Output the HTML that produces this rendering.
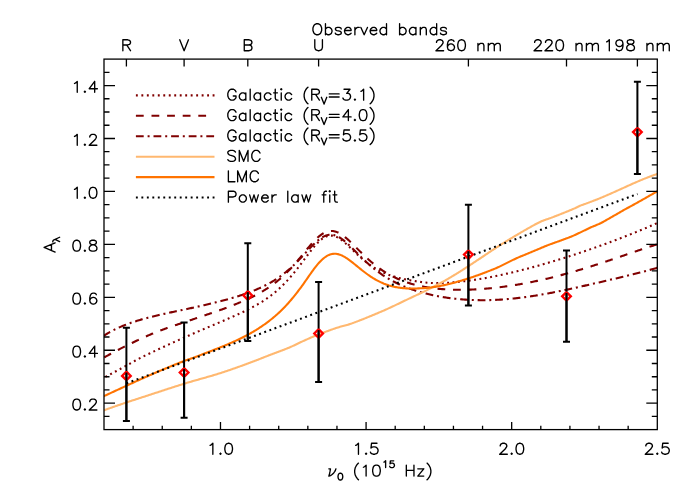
<!DOCTYPE html>
<html><head><meta charset="utf-8"><title>Extinction curves</title>
<style>html,body{margin:0;padding:0;background:#fff}svg{display:block}text{font-family:"Liberation Sans",sans-serif;font-size:15px;fill:#000;fill-opacity:0}</style></head>
<body>
<svg width="692" height="494" viewBox="0 0 692 494">
<rect width="692" height="494" fill="#fff"/>
<defs><clipPath id="c"><rect x="104.0" y="59.0" width="553.3" height="370.4"/></clipPath></defs>
<g clip-path="url(#c)" fill="none" stroke-width="2.1">
<path d="M102 378.56L103 378.1L104 377.65L105 377.12L106 376.6L107 376.07L108 375.54L109 375.01L110 374.47L111 373.94L112 373.4L113 372.86L114 372.32L115 371.78L116 371.24L117 370.7L118 370.16L119 369.61L120 369.07L121 368.52L122 367.97L123 367.43L124 366.88L125 366.33L126 365.78L127 365.23L128 364.67L129 364.11L130 363.55L131 362.99L132 362.43L133 361.87L134 361.32L135 360.77L136 360.23L137 359.69L138 359.17L139 358.65L140 358.15L141 357.65L142 357.15L143 356.66L144 356.16L145 355.67L146 355.19L147 354.7L148 354.21L149 353.73L150 353.25L151 352.77L152 352.29L153 351.82L154 351.34L155 350.87L156 350.4L157 349.93L158 349.46L159 349L160 348.53L161 348.07L162 347.61L163 347.15L164 346.69L165 346.23L166 345.77L167 345.32L168 344.86L169 344.41L170 343.95L171 343.5L172 343.05L173 342.6L174 342.15L175 341.7L176 341.25L177 340.81L178 340.36L179 339.91L180 339.46L181 339.02L182 338.57L183 338.12L184 337.68L185 337.23L186 336.79L187 336.34L188 335.9L189 335.46L190 335.02L191 334.58L192 334.14L193 333.71L194 333.27L195 332.84L196 332.41L197 331.97L198 331.54L199 331.11L200 330.68L201 330.25L202 329.82L203 329.4L204 328.97L205 328.55L206 328.12L207 327.69L208 327.27L209 326.85L210 326.42L211 326L212 325.58L213 325.15L214 324.73L215 324.31L216 323.88L217 323.46L218 323.04L219 322.61L220 322.19L221 321.76L222 321.33L223 320.91L224 320.48L225 320.05L226 319.62L227 319.19L228 318.76L229 318.32L230 317.88L231 317.45L232 317.01L233 316.56L234 316.12L235 315.67L236 315.22L237 314.77L238 314.31L239 313.85L240 313.39L241 312.92L242 312.45L243 311.98L244 311.5L245 311.01L246 310.52L247 310.03L248 309.53L249 309.02L250 308.51L251 308L252 307.47L253 306.94L254 306.4L255 305.85L256 305.3L257 304.74L258 304.17L259 303.58L260 302.99L261 302.39L262 301.78L263 301.14L264 300.5L265 299.83L266 299.16L267 298.46L268 297.76L269 297.03L270 296.29L271 295.53L272 294.75L273 293.96L274 293.15L275 292.32L276 291.47L277 290.61L278 289.72L279 288.82L280 287.89L281 286.95L282 285.98L283 285L284 283.99L285 282.97L286 281.92L287 280.85L288 279.76L289 278.65L290 277.52L291 276.37L292 275.2L293 274.01L294 272.8L295 271.57L296 270.32L297 269.06L298 267.78L299 266.49L300 265.18L301 263.87L302 262.54L303 261.21L304 259.87L305 258.52L306 257.18L307 255.83L308 254.5L309 253.17L310 251.86L311 250.57L312 249.3L313 248.05L314 246.84L315 245.67L316 244.53L317 243.45L318 242.42L319 241.44L320 240.53L321 239.68L322 238.9L323 238.2L324 237.58L325 237.04L326 236.58L327 236.21L328 235.92L329 235.72L330 235.61L331 235.59L332 235.65L333 235.8L334 236.03L335 236.33L336 236.71L337 237.17L338 237.68L339 238.27L340 238.9L341 239.6L342 240.34L343 241.12L344 241.94L345 242.8L346 243.68L347 244.58L348 245.51L349 246.45L350 247.4L351 248.36L352 249.33L353 250.29L354 251.26L355 252.22L356 253.17L357 254.11L358 255.05L359 255.97L360 256.87L361 257.76L362 258.63L363 259.49L364 260.32L365 261.14L366 261.94L367 262.72L368 263.47L369 264.21L370 264.93L371 265.62L372 266.3L373 266.95L374 267.59L375 268.2L376 268.79L377 269.37L378 269.93L379 270.46L380 270.98L381 271.48L382 271.97L383 272.43L384 272.88L385 273.32L386 273.73L387 274.14L388 274.52L389 274.9L390 275.26L391 275.6L392 275.94L393 276.26L394 276.57L395 276.86L396 277.15L397 277.43L398 277.69L399 277.95L400 278.19L401 278.43L402 278.65L403 278.87L404 279.08L405 279.28L406 279.48L407 279.68L408 279.87L409 280.06L410 280.24L411 280.42L412 280.6L413 280.77L414 280.94L415 281.11L416 281.27L417 281.43L418 281.58L419 281.72L420 281.87L421 282L422 282.13L423 282.25L424 282.37L425 282.48L426 282.58L427 282.68L428 282.76L429 282.84L430 282.92L431 282.98L432 283.04L433 283.08L434 283.12L435 283.15L436 283.16L437 283.17L438 283.17L439 283.15L440 283.13L441 283.1L442 283.06L443 283.02L444 282.97L445 282.92L446 282.87L447 282.81L448 282.75L449 282.68L450 282.61L451 282.53L452 282.46L453 282.38L454 282.29L455 282.2L456 282.11L457 282.01L458 281.92L459 281.81L460 281.71L461 281.6L462 281.49L463 281.37L464 281.25L465 281.13L466 281L467 280.88L468 280.75L469 280.61L470 280.48L471 280.34L472 280.19L473 280.05L474 279.9L475 279.75L476 279.6L477 279.44L478 279.28L479 279.12L480 278.96L481 278.79L482 278.62L483 278.45L484 278.27L485 278.1L486 277.92L487 277.74L488 277.55L489 277.36L490 277.18L491 276.99L492 276.79L493 276.6L494 276.4L495 276.2L496 276L497 275.79L498 275.58L499 275.38L500 275.17L501 274.95L502 274.74L503 274.52L504 274.3L505 274.08L506 273.86L507 273.63L508 273.4L509 273.17L510 272.94L511 272.71L512 272.48L513 272.24L514 272L515 271.76L516 271.52L517 271.27L518 271.03L519 270.78L520 270.53L521 270.28L522 270.02L523 269.77L524 269.51L525 269.25L526 268.99L527 268.73L528 268.47L529 268.2L530 267.94L531 267.67L532 267.4L533 267.13L534 266.86L535 266.58L536 266.31L537 266.03L538 265.75L539 265.47L540 265.19L541 264.9L542 264.62L543 264.33L544 264.04L545 263.75L546 263.46L547 263.17L548 262.88L549 262.58L550 262.28L551 261.99L552 261.69L553 261.39L554 261.08L555 260.78L556 260.48L557 260.17L558 259.86L559 259.55L560 259.24L561 258.93L562 258.62L563 258.31L564 257.99L565 257.68L566 257.36L567 257.04L568 256.72L569 256.4L570 256.07L571 255.75L572 255.43L573 255.1L574 254.77L575 254.44L576 254.11L577 253.78L578 253.45L579 253.12L580 252.78L581 252.45L582 252.11L583 251.77L584 251.43L585 251.09L586 250.75L587 250.41L588 250.06L589 249.72L590 249.37L591 249.02L592 248.68L593 248.33L594 247.97L595 247.62L596 247.27L597 246.91L598 246.56L599 246.2L600 245.84L601 245.48L602 245.12L603 244.76L604 244.4L605 244.03L606 243.67L607 243.3L608 242.94L609 242.57L610 242.2L611 241.82L612 241.45L613 241.08L614 240.7L615 240.33L616 239.95L617 239.57L618 239.19L619 238.81L620 238.42L621 238.04L622 237.65L623 237.27L624 236.88L625 236.49L626 236.1L627 235.71L628 235.31L629 234.92L630 234.52L631 234.12L632 233.72L633 233.32L634 232.92L635 232.51L636 232.11L637 231.7L638 231.29L639 230.88L640 230.46L641 230.05L642 229.63L643 229.22L644 228.8L645 228.38L646 227.95L647 227.53L648 227.1L649 226.67L650 226.24L651 225.81L652 225.37L653 224.94L654 224.5L655 224.06L656 223.62L657 223.17L658 222.72L659 222.27" stroke="#800000" stroke-dasharray="1.9 3.52" stroke-dashoffset="1.62"/>
<path d="M102 358.66L103 358.1L104 357.54L105 356.98L106 356.43L107 355.88L108 355.33L109 354.78L110 354.24L111 353.69L112 353.16L113 352.62L114 352.08L115 351.55L116 351.02L117 350.5L118 349.97L119 349.45L120 348.93L121 348.42L122 347.9L123 347.39L124 346.89L125 346.38L126 345.88L127 345.38L128 344.88L129 344.39L130 343.9L131 343.41L132 342.93L133 342.45L134 341.97L135 341.49L136 341.02L137 340.55L138 340.08L139 339.61L140 339.15L141 338.69L142 338.24L143 337.78L144 337.33L145 336.89L146 336.44L147 336L148 335.56L149 335.13L150 334.69L151 334.26L152 333.84L153 333.42L154 333.01L155 332.61L156 332.21L157 331.81L158 331.42L159 331.04L160 330.65L161 330.28L162 329.91L163 329.54L164 329.17L165 328.81L166 328.45L167 328.1L168 327.75L169 327.4L170 327.05L171 326.7L172 326.36L173 326.02L174 325.68L175 325.35L176 325.01L177 324.68L178 324.34L179 324.01L180 323.68L181 323.34L182 323.01L183 322.68L184 322.35L185 322.01L186 321.68L187 321.34L188 321.01L189 320.67L190 320.33L191 319.99L192 319.65L193 319.31L194 318.97L195 318.63L196 318.29L197 317.95L198 317.62L199 317.28L200 316.94L201 316.6L202 316.26L203 315.93L204 315.59L205 315.25L206 314.91L207 314.57L208 314.24L209 313.9L210 313.56L211 313.22L212 312.88L213 312.54L214 312.2L215 311.86L216 311.51L217 311.17L218 310.82L219 310.46L220 310.11L221 309.75L222 309.39L223 309.02L224 308.65L225 308.28L226 307.91L227 307.53L228 307.15L229 306.77L230 306.39L231 306L232 305.61L233 305.22L234 304.82L235 304.43L236 304.03L237 303.62L238 303.22L239 302.81L240 302.4L241 301.98L242 301.56L243 301.13L244 300.7L245 300.26L246 299.81L247 299.36L248 298.9L249 298.44L250 297.96L251 297.48L252 297L253 296.5L254 296L255 295.49L256 294.97L257 294.44L258 293.9L259 293.35L260 292.79L261 292.23L262 291.65L263 291.06L264 290.46L265 289.85L266 289.23L267 288.59L268 287.94L269 287.27L270 286.59L271 285.89L272 285.18L273 284.45L274 283.7L275 282.94L276 282.16L277 281.36L278 280.54L279 279.71L280 278.85L281 277.98L282 277.08L283 276.17L284 275.24L285 274.29L286 273.32L287 272.33L288 271.31L289 270.28L290 269.23L291 268.16L292 267.08L293 265.97L294 264.85L295 263.71L296 262.55L297 261.38L298 260.2L299 259L300 257.8L301 256.59L302 255.37L303 254.14L304 252.92L305 251.69L306 250.47L307 249.25L308 248.04L309 246.85L310 245.67L311 244.51L312 243.37L313 242.26L314 241.19L315 240.14L316 239.13L317 238.17L318 237.25L319 236.39L320 235.57L321 234.82L322 234.12L323 233.49L324 232.92L325 232.42L326 231.99L327 231.64L328 231.35L329 231.15L330 231.01L331 230.95L332 230.97L333 231.06L334 231.22L335 231.45L336 231.75L337 232.11L338 232.54L339 233.03L340 233.58L341 234.18L342 234.84L343 235.54L344 236.28L345 237.07L346 237.89L347 238.75L348 239.63L349 240.54L350 241.48L351 242.43L352 243.4L353 244.38L354 245.37L355 246.36L356 247.37L357 248.37L358 249.38L359 250.38L360 251.38L361 252.37L362 253.36L363 254.33L364 255.3L365 256.25L366 257.2L367 258.13L368 259.04L369 259.94L370 260.83L371 261.7L372 262.55L373 263.39L374 264.21L375 265.01L376 265.8L377 266.57L378 267.32L379 268.06L380 268.77L381 269.47L382 270.16L383 270.82L384 271.48L385 272.11L386 272.73L387 273.33L388 273.91L389 274.49L390 275.04L391 275.58L392 276.11L393 276.62L394 277.12L395 277.6L396 278.07L397 278.53L398 278.97L399 279.4L400 279.82L401 280.22L402 280.62L403 281L404 281.37L405 281.73L406 282.08L407 282.42L408 282.75L409 283.07L410 283.37L411 283.67L412 283.96L413 284.24L414 284.51L415 284.77L416 285.03L417 285.27L418 285.51L419 285.73L420 285.95L421 286.17L422 286.37L423 286.57L424 286.76L425 286.94L426 287.12L427 287.29L428 287.45L429 287.6L430 287.75L431 287.9L432 288.03L433 288.17L434 288.29L435 288.41L436 288.52L437 288.63L438 288.74L439 288.83L440 288.92L441 289.01L442 289.09L443 289.17L444 289.24L445 289.31L446 289.37L447 289.43L448 289.48L449 289.53L450 289.57L451 289.61L452 289.65L453 289.68L454 289.71L455 289.73L456 289.75L457 289.76L458 289.77L459 289.78L460 289.78L461 289.78L462 289.78L463 289.77L464 289.76L465 289.74L466 289.72L467 289.7L468 289.68L469 289.65L470 289.61L471 289.58L472 289.54L473 289.5L474 289.45L475 289.4L476 289.35L477 289.29L478 289.23L479 289.17L480 289.11L481 289.04L482 288.97L483 288.89L484 288.81L485 288.73L486 288.65L487 288.57L488 288.48L489 288.38L490 288.29L491 288.19L492 288.09L493 287.99L494 287.88L495 287.77L496 287.66L497 287.55L498 287.43L499 287.31L500 287.19L501 287.07L502 286.94L503 286.81L504 286.68L505 286.54L506 286.4L507 286.26L508 286.12L509 285.97L510 285.82L511 285.67L512 285.52L513 285.36L514 285.21L515 285.05L516 284.88L517 284.72L518 284.55L519 284.38L520 284.2L521 284.03L522 283.85L523 283.67L524 283.49L525 283.3L526 283.12L527 282.93L528 282.73L529 282.54L530 282.34L531 282.14L532 281.94L533 281.74L534 281.53L535 281.32L536 281.11L537 280.9L538 280.69L539 280.47L540 280.25L541 280.03L542 279.8L543 279.58L544 279.35L545 279.12L546 278.88L547 278.65L548 278.41L549 278.17L550 277.93L551 277.69L552 277.44L553 277.2L554 276.95L555 276.69L556 276.44L557 276.18L558 275.93L559 275.67L560 275.4L561 275.14L562 274.87L563 274.61L564 274.34L565 274.07L566 273.79L567 273.52L568 273.24L569 272.96L570 272.68L571 272.4L572 272.11L573 271.82L574 271.54L575 271.25L576 270.95L577 270.66L578 270.36L579 270.07L580 269.77L581 269.47L582 269.17L583 268.86L584 268.56L585 268.25L586 267.94L587 267.63L588 267.32L589 267.01L590 266.7L591 266.38L592 266.06L593 265.75L594 265.43L595 265.1L596 264.78L597 264.46L598 264.13L599 263.81L600 263.48L601 263.15L602 262.83L603 262.5L604 262.16L605 261.83L606 261.5L607 261.17L608 260.83L609 260.49L610 260.16L611 259.82L612 259.48L613 259.14L614 258.81L615 258.47L616 258.13L617 257.79L618 257.44L619 257.1L620 256.76L621 256.42L622 256.08L623 255.73L624 255.39L625 255.05L626 254.7L627 254.36L628 254.02L629 253.68L630 253.33L631 252.99L632 252.65L633 252.31L634 251.96L635 251.62L636 251.28L637 250.94L638 250.6L639 250.27L640 249.93L641 249.59L642 249.26L643 248.92L644 248.59L645 248.26L646 247.92L647 247.59L648 247.27L649 246.94L650 246.61L651 246.29L652 245.97L653 245.65L654 245.33L655 245.01L656 244.7L657 244.39L658 244.08L659 243.77" stroke="#800000" stroke-dasharray="7.78 7.78" stroke-dashoffset="13"/>
<path d="M102 336.96L103 336.29L104 335.63L105 335L106 334.38L107 333.77L108 333.18L109 332.6L110 332.04L111 331.49L112 330.95L113 330.43L114 329.92L115 329.42L116 328.93L117 328.45L118 327.99L119 327.53L120 327.09L121 326.65L122 326.23L123 325.81L124 325.41L125 325.01L126 324.62L127 324.24L128 323.87L129 323.5L130 323.14L131 322.79L132 322.45L133 322.11L134 321.78L135 321.46L136 321.14L137 320.83L138 320.52L139 320.22L140 319.92L141 319.63L142 319.34L143 319.06L144 318.79L145 318.51L146 318.24L147 317.98L148 317.71L149 317.46L150 317.2L151 316.95L152 316.7L153 316.45L154 316.21L155 315.97L156 315.73L157 315.5L158 315.26L159 315.03L160 314.8L161 314.57L162 314.35L163 314.12L164 313.9L165 313.68L166 313.46L167 313.24L168 313.02L169 312.8L170 312.58L171 312.37L172 312.15L173 311.94L174 311.73L175 311.51L176 311.3L177 311.09L178 310.87L179 310.66L180 310.45L181 310.24L182 310.03L183 309.81L184 309.6L185 309.39L186 309.17L187 308.96L188 308.75L189 308.53L190 308.32L191 308.1L192 307.88L193 307.67L194 307.45L195 307.23L196 307.01L197 306.79L198 306.57L199 306.35L200 306.12L201 305.9L202 305.67L203 305.44L204 305.21L205 304.98L206 304.75L207 304.52L208 304.29L209 304.05L210 303.81L211 303.57L212 303.33L213 303.09L214 302.84L215 302.6L216 302.35L217 302.1L218 301.84L219 301.59L220 301.33L221 301.07L222 300.81L223 300.54L224 300.28L225 300.01L226 299.73L227 299.46L228 299.18L229 298.9L230 298.62L231 298.33L232 298.04L233 297.74L234 297.44L235 297.14L236 296.84L237 296.53L238 296.21L239 295.9L240 295.58L241 295.25L242 294.92L243 294.58L244 294.24L245 293.9L246 293.54L247 293.19L248 292.82L249 292.46L250 292.08L251 291.7L252 291.31L253 290.92L254 290.52L255 290.11L256 289.69L257 289.27L258 288.83L259 288.39L260 287.94L261 287.48L262 287.01L263 286.54L264 286.05L265 285.55L266 285.04L267 284.52L268 283.99L269 283.44L270 282.89L271 282.32L272 281.74L273 281.14L274 280.53L275 279.91L276 279.27L277 278.62L278 277.95L279 277.26L280 276.56L281 275.84L282 275.11L283 274.36L284 273.59L285 272.8L286 272L287 271.17L288 270.33L289 269.47L290 268.59L291 267.69L292 266.78L293 265.84L294 264.89L295 263.93L296 262.94L297 261.94L298 260.92L299 259.89L300 258.85L301 257.79L302 256.73L303 255.66L304 254.58L305 253.49L306 252.41L307 251.32L308 250.24L309 249.17L310 248.1L311 247.05L312 246.02L313 245L314 244.02L315 243.06L316 242.13L317 241.24L318 240.39L319 239.58L320 238.83L321 238.13L322 237.49L323 236.9L324 236.38L325 235.93L326 235.54L327 235.23L328 234.99L329 234.83L330 234.73L331 234.72L332 234.78L333 234.91L334 235.11L335 235.39L336 235.73L337 236.15L338 236.62L339 237.16L340 237.75L341 238.4L342 239.1L343 239.84L344 240.62L345 241.45L346 242.3L347 243.19L348 244.11L349 245.05L350 246L351 246.98L352 247.96L353 248.96L354 249.96L355 250.97L356 251.98L357 252.99L358 254L359 255L360 255.99L361 256.98L362 257.96L363 258.93L364 259.89L365 260.83L366 261.76L367 262.68L368 263.59L369 264.48L370 265.35L371 266.21L372 267.05L373 267.88L374 268.69L375 269.48L376 270.26L377 271.03L378 271.77L379 272.51L380 273.22L381 273.92L382 274.61L383 275.28L384 275.94L385 276.58L386 277.21L387 277.82L388 278.42L389 279.01L390 279.58L391 280.14L392 280.69L393 281.23L394 281.75L395 282.27L396 282.77L397 283.26L398 283.74L399 284.21L400 284.66L401 285.11L402 285.55L403 285.98L404 286.4L405 286.81L406 287.21L407 287.6L408 287.98L409 288.36L410 288.73L411 289.08L412 289.43L413 289.78L414 290.11L415 290.44L416 290.76L417 291.08L418 291.38L419 291.68L420 291.97L421 292.26L422 292.54L423 292.81L424 293.08L425 293.34L426 293.6L427 293.85L428 294.09L429 294.33L430 294.56L431 294.78L432 295.01L433 295.22L434 295.43L435 295.64L436 295.83L437 296.03L438 296.22L439 296.4L440 296.58L441 296.76L442 296.93L443 297.09L444 297.25L445 297.41L446 297.56L447 297.7L448 297.85L449 297.98L450 298.12L451 298.25L452 298.37L453 298.49L454 298.61L455 298.72L456 298.82L457 298.93L458 299.03L459 299.12L460 299.21L461 299.3L462 299.38L463 299.46L464 299.53L465 299.6L466 299.67L467 299.73L468 299.79L469 299.84L470 299.89L471 299.94L472 299.98L473 300.02L474 300.06L475 300.09L476 300.11L477 300.14L478 300.16L479 300.17L480 300.18L481 300.19L482 300.2L483 300.2L484 300.19L485 300.19L486 300.17L487 300.16L488 300.14L489 300.12L490 300.09L491 300.07L492 300.03L493 300L494 299.96L495 299.91L496 299.87L497 299.82L498 299.76L499 299.7L500 299.64L501 299.58L502 299.51L503 299.44L504 299.37L505 299.3L506 299.22L507 299.13L508 299.05L509 298.96L510 298.87L511 298.77L512 298.67L513 298.57L514 298.47L515 298.36L516 298.25L517 298.14L518 298.03L519 297.91L520 297.79L521 297.66L522 297.54L523 297.41L524 297.28L525 297.14L526 297.01L527 296.87L528 296.73L529 296.58L530 296.44L531 296.29L532 296.13L533 295.98L534 295.82L535 295.67L536 295.51L537 295.34L538 295.18L539 295.01L540 294.84L541 294.67L542 294.5L543 294.32L544 294.14L545 293.96L546 293.78L547 293.6L548 293.41L549 293.23L550 293.04L551 292.85L552 292.66L553 292.46L554 292.27L555 292.07L556 291.87L557 291.67L558 291.47L559 291.27L560 291.06L561 290.86L562 290.65L563 290.44L564 290.24L565 290.03L566 289.81L567 289.6L568 289.39L569 289.17L570 288.96L571 288.74L572 288.52L573 288.3L574 288.08L575 287.86L576 287.64L577 287.42L578 287.2L579 286.98L580 286.75L581 286.53L582 286.3L583 286.07L584 285.85L585 285.62L586 285.39L587 285.17L588 284.94L589 284.71L590 284.48L591 284.25L592 284.02L593 283.79L594 283.56L595 283.32L596 283.09L597 282.86L598 282.63L599 282.4L600 282.16L601 281.93L602 281.7L603 281.46L604 281.23L605 280.99L606 280.76L607 280.53L608 280.29L609 280.06L610 279.82L611 279.58L612 279.35L613 279.11L614 278.88L615 278.64L616 278.4L617 278.16L618 277.93L619 277.69L620 277.45L621 277.21L622 276.97L623 276.73L624 276.49L625 276.25L626 276.01L627 275.77L628 275.52L629 275.28L630 275.04L631 274.79L632 274.55L633 274.3L634 274.05L635 273.8L636 273.55L637 273.3L638 273.05L639 272.79L640 272.54L641 272.28L642 272.02L643 271.76L644 271.5L645 271.23L646 270.97L647 270.7L648 270.43L649 270.16L650 269.88L651 269.6L652 269.32L653 269.04L654 268.75L655 268.46L656 268.17L657 267.87L658 267.58L659 267.28" stroke="#800000" stroke-dasharray="7.8 3.86 2 3.86" stroke-dashoffset="15.76"/>
<path d="M102 411.02L103 410.65L104 410.28L105 409.92L106 409.56L107 409.2L108 408.84L109 408.49L110 408.13L111 407.78L112 407.43L113 407.07L114 406.72L115 406.38L116 406.03L117 405.68L118 405.34L119 404.99L120 404.65L121 404.31L122 403.97L123 403.63L124 403.29L125 402.95L126 402.61L127 402.28L128 401.95L129 401.61L130 401.28L131 400.95L132 400.62L133 400.29L134 399.96L135 399.63L136 399.31L137 398.98L138 398.66L139 398.33L140 398.01L141 397.69L142 397.36L143 397.04L144 396.72L145 396.39L146 396.07L147 395.74L148 395.41L149 395.09L150 394.76L151 394.43L152 394.1L153 393.78L154 393.45L155 393.12L156 392.79L157 392.46L158 392.13L159 391.8L160 391.48L161 391.15L162 390.82L163 390.49L164 390.16L165 389.84L166 389.51L167 389.18L168 388.86L169 388.53L170 388.21L171 387.88L172 387.56L173 387.24L174 386.91L175 386.59L176 386.27L177 385.95L178 385.64L179 385.32L180 385L181 384.69L182 384.38L183 384.06L184 383.75L185 383.45L186 383.14L187 382.84L188 382.54L189 382.24L190 381.95L191 381.66L192 381.37L193 381.08L194 380.79L195 380.5L196 380.22L197 379.94L198 379.65L199 379.37L200 379.09L201 378.81L202 378.53L203 378.25L204 377.96L205 377.68L206 377.4L207 377.11L208 376.83L209 376.54L210 376.25L211 375.96L212 375.67L213 375.38L214 375.08L215 374.78L216 374.48L217 374.17L218 373.86L219 373.55L220 373.24L221 372.92L222 372.59L223 372.27L224 371.94L225 371.6L226 371.26L227 370.92L228 370.58L229 370.24L230 369.89L231 369.55L232 369.2L233 368.85L234 368.5L235 368.15L236 367.8L237 367.45L238 367.09L239 366.74L240 366.38L241 366.02L242 365.66L243 365.3L244 364.93L245 364.57L246 364.2L247 363.83L248 363.46L249 363.09L250 362.71L251 362.34L252 361.96L253 361.58L254 361.2L255 360.82L256 360.43L257 360.05L258 359.66L259 359.27L260 358.88L261 358.48L262 358.09L263 357.69L264 357.3L265 356.9L266 356.51L267 356.12L268 355.73L269 355.35L270 354.97L271 354.59L272 354.21L273 353.83L274 353.46L275 353.08L276 352.71L277 352.33L278 351.96L279 351.58L280 351.2L281 350.82L282 350.44L283 350.05L284 349.66L285 349.27L286 348.88L287 348.48L288 348.08L289 347.67L290 347.26L291 346.83L292 346.38L293 345.92L294 345.44L295 344.95L296 344.45L297 343.96L298 343.47L299 342.99L300 342.53L301 342.07L302 341.62L303 341.16L304 340.71L305 340.26L306 339.8L307 339.35L308 338.91L309 338.46L310 338.02L311 337.58L312 337.15L313 336.72L314 336.3L315 335.89L316 335.48L317 335.07L318 334.68L319 334.29L320 333.9L321 333.52L322 333.14L323 332.76L324 332.38L325 332.01L326 331.64L327 331.27L328 330.91L329 330.55L330 330.19L331 329.83L332 329.47L333 329.12L334 328.76L335 328.41L336 328.07L337 327.75L338 327.44L339 327.15L340 326.86L341 326.59L342 326.32L343 326.05L344 325.79L345 325.52L346 325.25L347 324.97L348 324.68L349 324.38L350 324.06L351 323.72L352 323.37L353 323L354 322.63L355 322.26L356 321.88L357 321.5L358 321.12L359 320.73L360 320.34L361 319.95L362 319.56L363 319.16L364 318.76L365 318.36L366 317.96L367 317.55L368 317.14L369 316.73L370 316.32L371 315.91L372 315.5L373 315.08L374 314.67L375 314.25L376 313.83L377 313.41L378 312.99L379 312.57L380 312.15L381 311.73L382 311.3L383 310.87L384 310.43L385 309.99L386 309.54L387 309.09L388 308.63L389 308.17L390 307.71L391 307.25L392 306.78L393 306.31L394 305.84L395 305.36L396 304.88L397 304.41L398 303.93L399 303.45L400 302.97L401 302.49L402 302.01L403 301.53L404 301.04L405 300.56L406 300.09L407 299.61L408 299.13L409 298.66L410 298.18L411 297.71L412 297.24L413 296.78L414 296.31L415 295.85L416 295.38L417 294.92L418 294.45L419 293.97L420 293.5L421 293.02L422 292.54L423 292.06L424 291.57L425 291.08L426 290.59L427 290.09L428 289.59L429 289.09L430 288.58L431 288.07L432 287.56L433 287.04L434 286.52L435 286L436 285.47L437 284.94L438 284.41L439 283.87L440 283.33L441 282.78L442 282.23L443 281.67L444 281.11L445 280.55L446 279.98L447 279.41L448 278.83L449 278.25L450 277.66L451 277.07L452 276.47L453 275.87L454 275.26L455 274.65L456 274.04L457 273.42L458 272.8L459 272.17L460 271.55L461 270.91L462 270.28L463 269.64L464 269L465 268.36L466 267.72L467 267.07L468 266.42L469 265.77L470 265.11L471 264.46L472 263.8L473 263.14L474 262.48L475 261.82L476 261.16L477 260.49L478 259.83L479 259.16L480 258.5L481 257.83L482 257.16L483 256.5L484 255.83L485 255.16L486 254.49L487 253.82L488 253.16L489 252.49L490 251.82L491 251.16L492 250.49L493 249.83L494 249.16L495 248.5L496 247.84L497 247.19L498 246.53L499 245.88L500 245.24L501 244.59L502 243.95L503 243.32L504 242.68L505 242.05L506 241.43L507 240.81L508 240.2L509 239.59L510 238.99L511 238.4L512 237.8L513 237.21L514 236.62L515 236.02L516 235.43L517 234.83L518 234.23L519 233.63L520 233.04L521 232.45L522 231.87L523 231.29L524 230.71L525 230.14L526 229.57L527 229L528 228.44L529 227.88L530 227.31L531 226.75L532 226.19L533 225.63L534 225.08L535 224.53L536 223.99L537 223.47L538 222.95L539 222.45L540 221.97L541 221.51L542 221.08L543 220.68L544 220.29L545 219.93L546 219.58L547 219.23L548 218.9L549 218.56L550 218.22L551 217.87L552 217.5L553 217.13L554 216.74L555 216.35L556 215.96L557 215.56L558 215.16L559 214.75L560 214.35L561 213.95L562 213.55L563 213.16L564 212.77L565 212.37L566 211.97L567 211.57L568 211.16L569 210.74L570 210.33L571 209.91L572 209.48L573 209.06L574 208.63L575 208.19L576 207.72L577 207.23L578 206.75L579 206.27L580 205.81L581 205.39L582 205.02L583 204.68L584 204.33L585 203.98L586 203.62L587 203.26L588 202.89L589 202.52L590 202.14L591 201.76L592 201.38L593 200.99L594 200.6L595 200.21L596 199.81L597 199.41L598 199.01L599 198.6L600 198.19L601 197.77L602 197.36L603 196.94L604 196.52L605 196.09L606 195.66L607 195.23L608 194.8L609 194.36L610 193.93L611 193.49L612 193.05L613 192.6L614 192.16L615 191.71L616 191.26L617 190.81L618 190.36L619 189.9L620 189.45L621 188.99L622 188.54L623 188.08L624 187.63L625 187.18L626 186.72L627 186.27L628 185.82L629 185.37L630 184.92L631 184.47L632 184.03L633 183.58L634 183.14L635 182.7L636 182.27L637 181.84L638 181.41L639 180.98L640 180.56L641 180.14L642 179.72L643 179.31L644 178.9L645 178.5L646 178.1L647 177.7L648 177.31L649 176.93L650 176.55L651 176.18L652 175.81L653 175.45L654 175.1L655 174.75L656 174.41L657 174.07L658 173.77L659 173.48" stroke="#ffb870"/>
<path d="M102 396.96L103 396.52L104 396.08L105 395.62L106 395.17L107 394.71L108 394.25L109 393.8L110 393.34L111 392.88L112 392.42L113 391.95L114 391.49L115 391.03L116 390.57L117 390.11L118 389.64L119 389.18L120 388.72L121 388.26L122 387.79L123 387.33L124 386.87L125 386.41L126 385.95L127 385.49L128 385.03L129 384.57L130 384.11L131 383.65L132 383.19L133 382.73L134 382.28L135 381.82L136 381.37L137 380.91L138 380.46L139 380.01L140 379.56L141 379.11L142 378.66L143 378.22L144 377.77L145 377.33L146 376.88L147 376.44L148 376L149 375.56L150 375.12L151 374.68L152 374.24L153 373.81L154 373.37L155 372.94L156 372.51L157 372.08L158 371.65L159 371.22L160 370.8L161 370.37L162 369.95L163 369.53L164 369.11L165 368.69L166 368.27L167 367.86L168 367.44L169 367.03L170 366.62L171 366.21L172 365.8L173 365.4L174 364.99L175 364.59L176 364.18L177 363.78L178 363.38L179 362.99L180 362.59L181 362.2L182 361.8L183 361.41L184 361.02L185 360.64L186 360.28L187 359.94L188 359.6L189 359.27L190 358.95L191 358.62L192 358.28L193 357.92L194 357.55L195 357.16L196 356.78L197 356.4L198 356.02L199 355.63L200 355.25L201 354.87L202 354.48L203 354.1L204 353.72L205 353.33L206 352.95L207 352.57L208 352.18L209 351.8L210 351.41L211 351.02L212 350.63L213 350.24L214 349.85L215 349.46L216 349.07L217 348.67L218 348.28L219 347.88L220 347.48L221 347.07L222 346.67L223 346.26L224 345.85L225 345.44L226 345.02L227 344.6L228 344.18L229 343.75L230 343.32L231 342.88L232 342.44L233 342L234 341.55L235 341.09L236 340.63L237 340.17L238 339.7L239 339.22L240 338.74L241 338.25L242 337.76L243 337.26L244 336.75L245 336.24L246 335.71L247 335.18L248 334.65L249 334.1L250 333.55L251 332.99L252 332.42L253 331.84L254 331.25L255 330.65L256 330.04L257 329.42L258 328.79L259 328.15L260 327.49L261 326.83L262 326.15L263 325.46L264 324.76L265 324.04L266 323.32L267 322.58L268 321.83L269 321.07L270 320.29L271 319.5L272 318.7L273 317.88L274 317.05L275 316.2L276 315.33L277 314.45L278 313.55L279 312.63L280 311.69L281 310.73L282 309.75L283 308.75L284 307.73L285 306.69L286 305.63L287 304.54L288 303.43L289 302.31L290 301.16L291 299.98L292 298.79L293 297.57L294 296.34L295 295.08L296 293.82L297 292.55L298 291.27L299 289.98L300 288.67L301 287.33L302 285.96L303 284.56L304 283.13L305 281.7L306 280.25L307 278.81L308 277.36L309 275.93L310 274.49L311 273.08L312 271.68L313 270.3L314 268.96L315 267.64L316 266.36L317 265.13L318 263.94L319 262.8L320 261.72L321 260.69L322 259.73L323 258.83L324 258L325 257.23L326 256.54L327 255.92L328 255.38L329 254.91L330 254.53L331 254.21L332 253.98L333 253.83L334 253.75L335 253.74L336 253.81L337 253.94L338 254.14L339 254.41L340 254.74L341 255.13L342 255.57L343 256.06L344 256.6L345 257.18L346 257.8L347 258.45L348 259.14L349 259.86L350 260.6L351 261.36L352 262.13L353 262.92L354 263.73L355 264.54L356 265.35L357 266.17L358 266.99L359 267.8L360 268.61L361 269.42L362 270.21L363 271L364 271.77L365 272.53L366 273.28L367 274.01L368 274.73L369 275.43L370 276.11L371 276.78L372 277.42L373 278.05L374 278.66L375 279.25L376 279.82L377 280.37L378 280.9L379 281.41L380 281.9L381 282.37L382 282.82L383 283.25L384 283.66L385 284.04L386 284.41L387 284.76L388 285.09L389 285.41L390 285.7L391 285.98L392 286.24L393 286.48L394 286.71L395 286.92L396 287.12L397 287.3L398 287.46L399 287.62L400 287.76L401 287.88L402 287.99L403 288.09L404 288.18L405 288.26L406 288.33L407 288.38L408 288.43L409 288.46L410 288.48L411 288.5L412 288.51L413 288.51L414 288.5L415 288.48L416 288.46L417 288.43L418 288.4L419 288.36L420 288.32L421 288.27L422 288.22L423 288.15L424 288.09L425 288.01L426 287.93L427 287.84L428 287.75L429 287.64L430 287.53L431 287.42L432 287.29L433 287.16L434 287.02L435 286.87L436 286.71L437 286.54L438 286.36L439 286.18L440 285.98L441 285.78L442 285.57L443 285.36L444 285.14L445 284.91L446 284.68L447 284.45L448 284.21L449 283.97L450 283.72L451 283.47L452 283.21L453 282.95L454 282.68L455 282.41L456 282.14L457 281.86L458 281.57L459 281.29L460 281L461 280.7L462 280.41L463 280.11L464 279.8L465 279.49L466 279.18L467 278.87L468 278.55L469 278.22L470 277.9L471 277.56L472 277.23L473 276.89L474 276.55L475 276.2L476 275.85L477 275.49L478 275.14L479 274.77L480 274.41L481 274.04L482 273.67L483 273.3L484 272.92L485 272.54L486 272.16L487 271.77L488 271.39L489 271L490 270.61L491 270.21L492 269.81L493 269.41L494 269.01L495 268.6L496 268.18L497 267.74L498 267.29L499 266.83L500 266.36L501 265.88L502 265.4L503 264.91L504 264.41L505 263.91L506 263.41L507 262.9L508 262.4L509 261.89L510 261.39L511 260.89L512 260.4L513 259.91L514 259.43L515 258.95L516 258.49L517 258.03L518 257.59L519 257.16L520 256.74L521 256.33L522 255.92L523 255.51L524 255.1L525 254.68L526 254.27L527 253.86L528 253.44L529 253.03L530 252.61L531 252.19L532 251.78L533 251.36L534 250.94L535 250.53L536 250.11L537 249.69L538 249.27L539 248.85L540 248.43L541 248.01L542 247.59L543 247.17L544 246.75L545 246.32L546 245.91L547 245.51L548 245.12L549 244.74L550 244.37L551 244L552 243.64L553 243.29L554 242.94L555 242.58L556 242.23L557 241.88L558 241.52L559 241.15L560 240.78L561 240.41L562 240.04L563 239.68L564 239.32L565 238.96L566 238.59L567 238.23L568 237.86L569 237.48L570 237.09L571 236.69L572 236.28L573 235.85L574 235.41L575 234.95L576 234.49L577 234.02L578 233.55L579 233.07L580 232.6L581 232.12L582 231.64L583 231.15L584 230.67L585 230.19L586 229.7L587 229.22L588 228.74L589 228.27L590 227.79L591 227.33L592 226.9L593 226.48L594 226.07L595 225.66L596 225.25L597 224.84L598 224.41L599 223.97L600 223.49L601 223L602 222.48L603 221.95L604 221.4L605 220.84L606 220.27L607 219.7L608 219.12L609 218.54L610 217.97L611 217.39L612 216.83L613 216.27L614 215.7L615 215.13L616 214.55L617 213.97L618 213.39L619 212.81L620 212.23L621 211.65L622 211.08L623 210.51L624 209.94L625 209.38L626 208.83L627 208.29L628 207.75L629 207.21L630 206.66L631 206.11L632 205.57L633 205.02L634 204.46L635 203.91L636 203.35L637 202.8L638 202.24L639 201.68L640 201.12L641 200.56L642 199.99L643 199.43L644 198.86L645 198.3L646 197.73L647 197.16L648 196.6L649 196.03L650 195.46L651 194.89L652 194.32L653 193.75L654 193.18L655 192.61L656 192.05L657 191.48L658 190.86L659 190.24" stroke="#ff7300"/>
<path d="M126.4 383.35L637.5 194" stroke="#000" stroke-dasharray="1.9 3.546"/>
</g>
<g fill="none" stroke="#000" stroke-width="2">
<path d="M126.4 327.7V421M122.9 327.7h7M122.9 421h7"/>
<path d="M184.1 322.6V417.7M180.6 322.6h7M180.6 417.7h7"/>
<path d="M247.8 243.3V341M244.3 243.3h7M244.3 341h7"/>
<path d="M318.6 281.9V382.1M315.1 281.9h7M315.1 382.1h7"/>
<path d="M468.4 204.7V305.5M464.9 204.7h7M464.9 305.5h7"/>
<path d="M566.5 250.4V341.7M563 250.4h7M563 341.7h7"/>
<path d="M637.4 81.8V174M633.9 81.8h7M633.9 174h7"/>
</g>
<g fill="none" stroke="#f00" stroke-width="2.4">
<clipPath id="k0"><rect x="119.4" y="371" width="14" height="9.8"/></clipPath>
<path clip-path="url(#k0)" d="M126.4 371.6l4.3 4.3l-4.3 4.3l-4.3 -4.3z"/>
<clipPath id="k1"><rect x="177.1" y="367.6" width="14" height="9.8"/></clipPath>
<path clip-path="url(#k1)" d="M184.1 368.2l4.3 4.3l-4.3 4.3l-4.3 -4.3z"/>
<clipPath id="k2"><rect x="240.8" y="290.6" width="14" height="9.8"/></clipPath>
<path clip-path="url(#k2)" d="M247.8 291.2l4.3 4.3l-4.3 4.3l-4.3 -4.3z"/>
<clipPath id="k3"><rect x="311.6" y="328.6" width="14" height="9.8"/></clipPath>
<path clip-path="url(#k3)" d="M318.6 329.2l4.3 4.3l-4.3 4.3l-4.3 -4.3z"/>
<clipPath id="k4"><rect x="461.4" y="249.7" width="14" height="9.8"/></clipPath>
<path clip-path="url(#k4)" d="M468.4 250.3l4.3 4.3l-4.3 4.3l-4.3 -4.3z"/>
<clipPath id="k5"><rect x="559.5" y="291.4" width="14" height="9.8"/></clipPath>
<path clip-path="url(#k5)" d="M566.5 292l4.3 4.3l-4.3 4.3l-4.3 -4.3z"/>
<clipPath id="k6"><rect x="630.4" y="127.2" width="14" height="9.8"/></clipPath>
<path clip-path="url(#k6)" d="M637.4 127.8l4.3 4.3l-4.3 4.3l-4.3 -4.3z"/>
</g>
<g fill="none" stroke="#000" stroke-width="2">
<path d="M126.4 372.5V421"/>
<path d="M184.1 369.1V417.7"/>
<path d="M247.8 292.1V341"/>
<path d="M318.6 330.1V382.1"/>
<path d="M468.4 251.2V305.5"/>
<path d="M566.5 292.9V341.7"/>
<path d="M637.4 128.7V174"/>
</g>
<g fill="none" stroke="#000" stroke-width="1.3">
<rect x="104.0" y="59.1" width="553.3" height="370.5"/>
<path d="M133.12 429.4v-3.7M162.24 429.4v-3.7M191.36 429.4v-3.7M220.48 429.4v-7.5M249.6 429.4v-3.7M278.72 429.4v-3.7M307.84 429.4v-3.7M336.96 429.4v-3.7M366.08 429.4v-7.5M395.2 429.4v-3.7M424.32 429.4v-3.7M453.44 429.4v-3.7M482.56 429.4v-3.7M511.68 429.4v-7.5M540.8 429.4v-3.7M569.92 429.4v-3.7M599.04 429.4v-3.7M628.16 429.4v-3.7M126.4 59v7.5M184.1 59v7.5M247.8 59v7.5M318.6 59v7.5M468.4 59v7.5M566.5 59v7.5M637.4 59v7.5M104 416.44h5.5M657.3 416.44h-5.5M104 403.2h11M657.3 403.2h-11M104 389.96h5.5M657.3 389.96h-5.5M104 376.73h5.5M657.3 376.73h-5.5M104 363.49h5.5M657.3 363.49h-5.5M104 350.26h11M657.3 350.26h-11M104 337.02h5.5M657.3 337.02h-5.5M104 323.78h5.5M657.3 323.78h-5.5M104 310.55h5.5M657.3 310.55h-5.5M104 297.31h11M657.3 297.31h-11M104 284.08h5.5M657.3 284.08h-5.5M104 270.84h5.5M657.3 270.84h-5.5M104 257.6h5.5M657.3 257.6h-5.5M104 244.37h11M657.3 244.37h-11M104 231.13h5.5M657.3 231.13h-5.5M104 217.9h5.5M657.3 217.9h-5.5M104 204.66h5.5M657.3 204.66h-5.5M104 191.42h11M657.3 191.42h-11M104 178.19h5.5M657.3 178.19h-5.5M104 164.95h5.5M657.3 164.95h-5.5M104 151.72h5.5M657.3 151.72h-5.5M104 138.48h11M657.3 138.48h-11M104 125.24h5.5M657.3 125.24h-5.5M104 112.01h5.5M657.3 112.01h-5.5M104 98.77h5.5M657.3 98.77h-5.5M104 85.54h11M657.3 85.54h-11M104 72.3h5.5M657.3 72.3h-5.5"/>
</g>
<g fill="none" stroke-width="2.1">
<path d="M135.9 95.4H214.5" stroke="#800000" stroke-dasharray="1.9 3.58"/>
<path d="M135.9 115.8H213" stroke="#800000" stroke-dasharray="7.8 7.8"/>
<path d="M135.9 136.3H214.5" stroke="#800000" stroke-dasharray="7.8 3.9 2 3.9"/>
<path d="M135.9 156.7H214.5" stroke="#ffb870"/>
<path d="M135.9 177.1H214.5" stroke="#ff7300"/>
<path d="M135.9 197.5H214.5" stroke="#000" stroke-dasharray="1.9 3.58"/>
</g>
<path d="M76.16 399.08L74.52 399.6L73.43 401.16L72.89 403.76L72.89 405.32L73.43 407.92L74.52 409.48L76.16 410L77.25 410L78.88 409.48L79.97 407.92L80.52 405.32L80.52 403.76L79.97 401.16L78.88 399.6L77.25 399.08L76.16 399.08M84.88 408.96L84.33 409.48L84.88 410L85.42 409.48L84.88 408.96M89.78 401.68L89.78 401.16L90.33 400.12L90.87 399.6L91.96 399.08L94.14 399.08L95.23 399.6L95.78 400.12L96.32 401.16L96.32 402.2L95.78 403.24L94.69 404.8L89.24 410L96.87 410M76.16 346.14L74.52 346.66L73.43 348.22L72.89 350.82L72.89 352.38L73.43 354.98L74.52 356.54L76.16 357.06L77.25 357.06L78.88 356.54L79.97 354.98L80.52 352.38L80.52 350.82L79.97 348.22L78.88 346.66L77.25 346.14L76.16 346.14M84.88 356.02L84.33 356.54L84.88 357.06L85.42 356.54L84.88 356.02M94.69 346.14L89.24 353.42L97.41 353.42M94.69 346.14L94.69 357.06M76.16 293.19L74.52 293.71L73.43 295.27L72.89 297.87L72.89 299.43L73.43 302.03L74.52 303.59L76.16 304.11L77.25 304.11L78.88 303.59L79.97 302.03L80.52 299.43L80.52 297.87L79.97 295.27L78.88 293.71L77.25 293.19L76.16 293.19M84.88 303.07L84.33 303.59L84.88 304.11L85.42 303.59L84.88 303.07M96.32 294.75L95.78 293.71L94.14 293.19L93.05 293.19L91.42 293.71L90.33 295.27L89.78 297.87L89.78 300.47L90.33 302.55L91.42 303.59L93.05 304.11L93.6 304.11L95.23 303.59L96.32 302.55L96.87 300.99L96.87 300.47L96.32 298.91L95.23 297.87L93.6 297.35L93.05 297.35L91.42 297.87L90.33 298.91L89.78 300.47M76.16 240.25L74.52 240.77L73.43 242.33L72.89 244.93L72.89 246.49L73.43 249.09L74.52 250.65L76.16 251.17L77.25 251.17L78.88 250.65L79.97 249.09L80.52 246.49L80.52 244.93L79.97 242.33L78.88 240.77L77.25 240.25L76.16 240.25M84.88 250.13L84.33 250.65L84.88 251.17L85.42 250.65L84.88 250.13M91.96 240.25L90.33 240.77L89.78 241.81L89.78 242.85L90.33 243.89L91.42 244.41L93.6 244.93L95.23 245.45L96.32 246.49L96.87 247.53L96.87 249.09L96.32 250.13L95.78 250.65L94.14 251.17L91.96 251.17L90.33 250.65L89.78 250.13L89.24 249.09L89.24 247.53L89.78 246.49L90.87 245.45L92.51 244.93L94.69 244.41L95.78 243.89L96.32 242.85L96.32 241.81L95.78 240.77L94.14 240.25L91.96 240.25M74.52 189.38L75.61 188.86L77.25 187.3L77.25 198.22M84.88 197.18L84.33 197.7L84.88 198.22L85.42 197.7L84.88 197.18M92.51 187.3L90.87 187.82L89.78 189.38L89.24 191.98L89.24 193.54L89.78 196.14L90.87 197.7L92.51 198.22L93.6 198.22L95.23 197.7L96.32 196.14L96.87 193.54L96.87 191.98L96.32 189.38L95.23 187.82L93.6 187.3L92.51 187.3M74.52 136.44L75.61 135.92L77.25 134.36L77.25 145.28M84.88 144.24L84.33 144.76L84.88 145.28L85.42 144.76L84.88 144.24M89.78 136.96L89.78 136.44L90.33 135.4L90.87 134.88L91.96 134.36L94.14 134.36L95.23 134.88L95.78 135.4L96.32 136.44L96.32 137.48L95.78 138.52L94.69 140.08L89.24 145.28L96.87 145.28M74.52 83.5L75.61 82.98L77.25 81.42L77.25 92.34M84.88 91.3L84.33 91.82L84.88 92.34L85.42 91.82L84.88 91.3M94.69 81.42L89.24 88.7L97.41 88.7M94.69 81.42L94.69 92.34M210.13 445.36L211.22 444.84L212.85 443.28L212.85 454.2M220.48 453.16L219.94 453.68L220.48 454.2L221.03 453.68L220.48 453.16M228.11 443.28L226.48 443.8L225.39 445.36L224.84 447.96L224.84 449.52L225.39 452.12L226.48 453.68L228.11 454.2L229.2 454.2L230.84 453.68L231.93 452.12L232.47 449.52L232.47 447.96L231.93 445.36L230.84 443.8L229.2 443.28L228.11 443.28M355.72 445.36L356.81 444.84L358.45 443.28L358.45 454.2M366.08 453.16L365.53 453.68L366.08 454.2L366.62 453.68L366.08 453.16M376.98 443.28L371.53 443.28L370.98 447.96L371.53 447.44L373.16 446.92L374.8 446.92L376.43 447.44L377.52 448.48L378.07 450.04L378.07 451.08L377.52 452.64L376.43 453.68L374.8 454.2L373.16 454.2L371.53 453.68L370.98 453.16L370.44 452.12M500.23 445.88L500.23 445.36L500.78 444.32L501.32 443.8L502.41 443.28L504.59 443.28L505.68 443.8L506.23 444.32L506.77 445.36L506.77 446.4L506.23 447.44L505.14 449L499.69 454.2L507.32 454.2M511.68 453.16L511.13 453.68L511.68 454.2L512.22 453.68L511.68 453.16M519.31 443.28L517.67 443.8L516.58 445.36L516.04 447.96L516.04 449.52L516.58 452.12L517.67 453.68L519.31 454.2L520.4 454.2L522.03 453.68L523.12 452.12L523.67 449.52L523.67 447.96L523.12 445.36L522.03 443.8L520.4 443.28L519.31 443.28M645.83 445.88L645.83 445.36L646.38 444.32L646.92 443.8L648.01 443.28L650.19 443.28L651.28 443.8L651.83 444.32L652.38 445.36L652.38 446.4L651.83 447.44L650.74 449L645.29 454.2L652.92 454.2M657.28 453.16L656.73 453.68L657.28 454.2L657.82 453.68L657.28 453.16M668.18 443.28L662.73 443.28L662.18 447.96L662.73 447.44L664.37 446.92L666 446.92L667.63 447.44L668.73 448.48L669.27 450.04L669.27 451.08L668.73 452.64L667.63 453.68L666 454.2L664.37 454.2L662.73 453.68L662.18 453.16L661.64 452.12M122.86 39.78L122.86 50.7M122.86 39.78L127.76 39.78L129.4 40.3L129.94 40.82L130.49 41.86L130.49 42.9L129.94 43.94L129.4 44.46L127.76 44.98L122.86 44.98M126.67 44.98L130.49 50.7M179.74 39.78L184.1 50.7M188.46 39.78L184.1 50.7M244.26 39.78L244.26 50.7M244.26 39.78L249.16 39.78L250.8 40.3L251.34 40.82L251.89 41.86L251.89 42.9L251.34 43.94L250.8 44.46L249.16 44.98M244.26 44.98L249.16 44.98L250.8 45.5L251.34 46.02L251.89 47.06L251.89 48.62L251.34 49.66L250.8 50.18L249.16 50.7L244.26 50.7M314.79 39.78L314.79 47.58L315.33 49.14L316.42 50.18L318.06 50.7L319.15 50.7L320.78 50.18L321.87 49.14L322.42 47.58L322.42 39.78M436.52 42.38L436.52 41.86L437.06 40.82L437.61 40.3L438.7 39.78L440.88 39.78L441.97 40.3L442.51 40.82L443.06 41.86L443.06 42.9L442.51 43.94L441.42 45.5L435.97 50.7L443.6 50.7M453.96 41.34L453.41 40.3L451.78 39.78L450.69 39.78L449.05 40.3L447.96 41.86L447.42 44.46L447.42 47.06L447.96 49.14L449.05 50.18L450.69 50.7L451.23 50.7L452.87 50.18L453.96 49.14L454.5 47.58L454.5 47.06L453.96 45.5L452.87 44.46L451.23 43.94L450.69 43.94L449.05 44.46L447.96 45.5L447.42 47.06M461.04 39.78L459.41 40.3L458.32 41.86L457.77 44.46L457.77 46.02L458.32 48.62L459.41 50.18L461.04 50.7L462.13 50.7L463.77 50.18L464.86 48.62L465.4 46.02L465.4 44.46L464.86 41.86L463.77 40.3L462.13 39.78L461.04 39.78M477.94 43.42L477.94 50.7M477.94 45.5L479.57 43.94L480.66 43.42L482.3 43.42L483.39 43.94L483.93 45.5L483.93 50.7M488.29 43.42L488.29 50.7M488.29 45.5L489.93 43.94L491.02 43.42L492.65 43.42L493.74 43.94L494.29 45.5L494.29 50.7M494.29 45.5L495.92 43.94L497.01 43.42L498.65 43.42L499.74 43.94L500.28 45.5L500.28 50.7M534.62 42.38L534.62 41.86L535.16 40.82L535.71 40.3L536.8 39.78L538.98 39.78L540.07 40.3L540.61 40.82L541.16 41.86L541.16 42.9L540.61 43.94L539.52 45.5L534.07 50.7L541.7 50.7M545.52 42.38L545.52 41.86L546.06 40.82L546.61 40.3L547.7 39.78L549.88 39.78L550.97 40.3L551.51 40.82L552.06 41.86L552.06 42.9L551.51 43.94L550.42 45.5L544.97 50.7L552.6 50.7M559.14 39.78L557.51 40.3L556.42 41.86L555.87 44.46L555.87 46.02L556.42 48.62L557.51 50.18L559.14 50.7L560.23 50.7L561.87 50.18L562.96 48.62L563.5 46.02L563.5 44.46L562.96 41.86L561.87 40.3L560.23 39.78L559.14 39.78M576.04 43.42L576.04 50.7M576.04 45.5L577.67 43.94L578.76 43.42L580.4 43.42L581.49 43.94L582.03 45.5L582.03 50.7M586.39 43.42L586.39 50.7M586.39 45.5L588.03 43.94L589.12 43.42L590.75 43.42L591.84 43.94L592.39 45.5L592.39 50.7M592.39 45.5L594.02 43.94L595.11 43.42L596.75 43.42L597.84 43.94L598.38 45.5L598.38 50.7M606.61 41.86L607.7 41.34L609.33 39.78L609.33 50.7M622.96 43.42L622.41 44.98L621.32 46.02L619.69 46.54L619.14 46.54L617.51 46.02L616.42 44.98L615.87 43.42L615.87 42.9L616.42 41.34L617.51 40.3L619.14 39.78L619.69 39.78L621.32 40.3L622.41 41.34L622.96 43.42L622.96 46.02L622.41 48.62L621.32 50.18L619.69 50.7L618.6 50.7L616.96 50.18L616.42 49.14M629.5 39.78L627.86 40.3L627.32 41.34L627.32 42.38L627.86 43.42L628.95 43.94L631.13 44.46L632.77 44.98L633.86 46.02L634.4 47.06L634.4 48.62L633.86 49.66L633.31 50.18L631.68 50.7L629.5 50.7L627.86 50.18L627.32 49.66L626.77 48.62L626.77 47.06L627.32 46.02L628.41 44.98L630.04 44.46L632.22 43.94L633.31 43.42L633.86 42.38L633.86 41.34L633.31 40.3L631.68 39.78L629.5 39.78M646.94 43.42L646.94 50.7M646.94 45.5L648.57 43.94L649.66 43.42L651.3 43.42L652.39 43.94L652.93 45.5L652.93 50.7M657.29 43.42L657.29 50.7M657.29 45.5L658.93 43.94L660.02 43.42L661.65 43.42L662.74 43.94L663.29 45.5L663.29 50.7M663.29 45.5L664.92 43.94L666.01 43.42L667.65 43.42L668.74 43.94L669.28 45.5L669.28 50.7M316.2 23.78L315.12 24.3L314.03 25.34L313.48 26.38L312.94 27.94L312.94 30.54L313.48 32.1L314.03 33.14L315.12 34.18L316.2 34.7L318.38 34.7L319.48 34.18L320.56 33.14L321.11 32.1L321.66 30.54L321.66 27.94L321.11 26.38L320.56 25.34L319.48 24.3L318.38 23.78L316.2 23.78M325.47 23.78L325.47 34.7M325.47 28.98L326.56 27.94L327.65 27.42L329.29 27.42L330.38 27.94L331.47 28.98L332.01 30.54L332.01 31.58L331.47 33.14L330.38 34.18L329.29 34.7L327.65 34.7L326.56 34.18L325.47 33.14M341.28 28.98L340.73 27.94L339.1 27.42L337.46 27.42L335.83 27.94L335.28 28.98L335.83 30.02L336.92 30.54L339.64 31.06L340.73 31.58L341.28 32.62L341.28 33.14L340.73 34.18L339.1 34.7L337.46 34.7L335.83 34.18L335.28 33.14M344.55 30.54L351.09 30.54L351.09 29.5L350.54 28.46L350 27.94L348.91 27.42L347.27 27.42L346.18 27.94L345.09 28.98L344.55 30.54L344.55 31.58L345.09 33.14L346.18 34.18L347.27 34.7L348.91 34.7L350 34.18L351.09 33.14M354.9 27.42L354.9 34.7M354.9 30.54L355.45 28.98L356.54 27.94L357.62 27.42L359.26 27.42M360.89 27.42L364.17 34.7M367.44 27.42L364.17 34.7M370.16 30.54L376.7 30.54L376.7 29.5L376.16 28.46L375.61 27.94L374.52 27.42L372.89 27.42L371.8 27.94L370.71 28.98L370.16 30.54L370.16 31.58L370.71 33.14L371.8 34.18L372.89 34.7L374.52 34.7L375.61 34.18L376.7 33.14M386.51 23.78L386.51 34.7M386.51 28.98L385.42 27.94L384.33 27.42L382.7 27.42L381.61 27.94L380.52 28.98L379.97 30.54L379.97 31.58L380.52 33.14L381.61 34.18L382.7 34.7L384.33 34.7L385.42 34.18L386.51 33.14M399.59 23.78L399.59 34.7M399.59 28.98L400.68 27.94L401.77 27.42L403.41 27.42L404.5 27.94L405.59 28.98L406.13 30.54L406.13 31.58L405.59 33.14L404.5 34.18L403.41 34.7L401.77 34.7L400.68 34.18L399.59 33.14M415.94 27.42L415.94 34.7M415.94 28.98L414.85 27.94L413.76 27.42L412.13 27.42L411.04 27.94L409.95 28.98L409.4 30.54L409.4 31.58L409.95 33.14L411.04 34.18L412.13 34.7L413.76 34.7L414.85 34.18L415.94 33.14M420.3 27.42L420.3 34.7M420.3 29.5L421.94 27.94L423.03 27.42L424.66 27.42L425.75 27.94L426.3 29.5L426.3 34.7M436.65 23.78L436.65 34.7M436.65 28.98L435.56 27.94L434.47 27.42L432.84 27.42L431.75 27.94L430.66 28.98L430.11 30.54L430.11 31.58L430.66 33.14L431.75 34.18L432.84 34.7L434.47 34.7L435.56 34.18L436.65 33.14M446.46 28.98L445.92 27.94L444.28 27.42L442.65 27.42L441.01 27.94L440.47 28.98L441.01 30.02L442.1 30.54L444.83 31.06L445.92 31.58L446.46 32.62L446.46 33.14L445.92 34.18L444.28 34.7L442.65 34.7L441.01 34.18L440.47 33.14M236.01 91.83L235.46 90.79L234.38 89.75L233.28 89.23L231.1 89.23L230.01 89.75L228.92 90.79L228.38 91.83L227.83 93.39L227.83 95.99L228.38 97.55L228.92 98.59L230.01 99.63L231.1 100.15L233.28 100.15L234.38 99.63L235.46 98.59L236.01 97.55L236.01 95.99M233.28 95.99L236.01 95.99M245.82 92.87L245.82 100.15M245.82 94.43L244.73 93.39L243.64 92.87L242 92.87L240.91 93.39L239.82 94.43L239.28 95.99L239.28 97.03L239.82 98.59L240.91 99.63L242 100.15L243.64 100.15L244.73 99.63L245.82 98.59M250.18 89.23L250.18 100.15M260.53 92.87L260.53 100.15M260.53 94.43L259.44 93.39L258.35 92.87L256.72 92.87L255.63 93.39L254.54 94.43L253.99 95.99L253.99 97.03L254.54 98.59L255.63 99.63L256.72 100.15L258.35 100.15L259.44 99.63L260.53 98.59M270.89 94.43L269.8 93.39L268.71 92.87L267.07 92.87L265.98 93.39L264.89 94.43L264.35 95.99L264.35 97.03L264.89 98.59L265.98 99.63L267.07 100.15L268.71 100.15L269.8 99.63L270.89 98.59M275.25 89.23L275.25 98.07L275.79 99.63L276.88 100.15L277.97 100.15M273.61 92.87L277.43 92.87M280.7 89.23L281.25 89.75L281.79 89.23L281.25 88.71L280.7 89.23M281.25 92.87L281.25 100.15M291.6 94.43L290.51 93.39L289.42 92.87L287.79 92.87L286.69 93.39L285.61 94.43L285.06 95.99L285.06 97.03L285.61 98.59L286.69 99.63L287.79 100.15L289.42 100.15L290.51 99.63L291.6 98.59M307.95 87.15L306.86 88.19L305.77 89.75L304.68 91.83L304.14 94.43L304.14 96.51L304.68 99.11L305.77 101.19L306.86 102.75L307.95 103.79M311.77 89.23L311.77 100.15M311.77 89.23L316.67 89.23L318.31 89.75L318.85 90.27L319.4 91.31L319.4 92.35L318.85 93.39L318.31 93.91L316.67 94.43L311.77 94.43M315.58 94.43L319.4 100.15M321.37 97.28L324.07 104.05M326.77 97.28L324.07 104.05M329.29 93.91L339.1 93.91M329.29 97.03L339.1 97.03M344.01 89.23L350 89.23L346.73 93.39L348.37 93.39L349.46 93.91L350 94.43L350.55 95.99L350.55 97.03L350 98.59L348.91 99.63L347.28 100.15L345.64 100.15L344.01 99.63L343.46 99.11L342.92 98.07M354.91 99.11L354.36 99.63L354.91 100.15L355.45 99.63L354.91 99.11M360.9 91.31L361.99 90.79L363.63 89.23L363.63 100.15M370.17 87.15L371.26 88.19L372.35 89.75L373.44 91.83L373.98 94.43L373.98 96.51L373.44 99.11L372.35 101.19L371.26 102.75L370.17 103.79M236.01 112.23L235.46 111.19L234.38 110.15L233.28 109.63L231.1 109.63L230.01 110.15L228.92 111.19L228.38 112.23L227.83 113.79L227.83 116.39L228.38 117.95L228.92 118.99L230.01 120.03L231.1 120.55L233.28 120.55L234.38 120.03L235.46 118.99L236.01 117.95L236.01 116.39M233.28 116.39L236.01 116.39M245.82 113.27L245.82 120.55M245.82 114.83L244.73 113.79L243.64 113.27L242 113.27L240.91 113.79L239.82 114.83L239.28 116.39L239.28 117.43L239.82 118.99L240.91 120.03L242 120.55L243.64 120.55L244.73 120.03L245.82 118.99M250.18 109.63L250.18 120.55M260.53 113.27L260.53 120.55M260.53 114.83L259.44 113.79L258.35 113.27L256.72 113.27L255.63 113.79L254.54 114.83L253.99 116.39L253.99 117.43L254.54 118.99L255.63 120.03L256.72 120.55L258.35 120.55L259.44 120.03L260.53 118.99M270.89 114.83L269.8 113.79L268.71 113.27L267.07 113.27L265.98 113.79L264.89 114.83L264.35 116.39L264.35 117.43L264.89 118.99L265.98 120.03L267.07 120.55L268.71 120.55L269.8 120.03L270.89 118.99M275.25 109.63L275.25 118.47L275.79 120.03L276.88 120.55L277.97 120.55M273.61 113.27L277.43 113.27M280.7 109.63L281.25 110.15L281.79 109.63L281.25 109.11L280.7 109.63M281.25 113.27L281.25 120.55M291.6 114.83L290.51 113.79L289.42 113.27L287.79 113.27L286.69 113.79L285.61 114.83L285.06 116.39L285.06 117.43L285.61 118.99L286.69 120.03L287.79 120.55L289.42 120.55L290.51 120.03L291.6 118.99M307.95 107.55L306.86 108.59L305.77 110.15L304.68 112.23L304.14 114.83L304.14 116.91L304.68 119.51L305.77 121.59L306.86 123.15L307.95 124.19M311.77 109.63L311.77 120.55M311.77 109.63L316.67 109.63L318.31 110.15L318.85 110.67L319.4 111.71L319.4 112.75L318.85 113.79L318.31 114.31L316.67 114.83L311.77 114.83M315.58 114.83L319.4 120.55M321.37 117.68L324.07 124.45M326.77 117.68L324.07 124.45M329.29 114.31L339.1 114.31M329.29 117.43L339.1 117.43M348.37 109.63L342.92 116.91L351.09 116.91M348.37 109.63L348.37 120.55M354.91 119.51L354.36 120.03L354.91 120.55L355.45 120.03L354.91 119.51M362.54 109.63L360.9 110.15L359.81 111.71L359.27 114.31L359.27 115.87L359.81 118.47L360.9 120.03L362.54 120.55L363.63 120.55L365.26 120.03L366.35 118.47L366.9 115.87L366.9 114.31L366.35 111.71L365.26 110.15L363.63 109.63L362.54 109.63M370.17 107.55L371.26 108.59L372.35 110.15L373.44 112.23L373.98 114.83L373.98 116.91L373.44 119.51L372.35 121.59L371.26 123.15L370.17 124.19M236.01 132.63L235.46 131.59L234.38 130.55L233.28 130.03L231.1 130.03L230.01 130.55L228.92 131.59L228.38 132.63L227.83 134.19L227.83 136.79L228.38 138.35L228.92 139.39L230.01 140.43L231.1 140.95L233.28 140.95L234.38 140.43L235.46 139.39L236.01 138.35L236.01 136.79M233.28 136.79L236.01 136.79M245.82 133.67L245.82 140.95M245.82 135.23L244.73 134.19L243.64 133.67L242 133.67L240.91 134.19L239.82 135.23L239.28 136.79L239.28 137.83L239.82 139.39L240.91 140.43L242 140.95L243.64 140.95L244.73 140.43L245.82 139.39M250.18 130.03L250.18 140.95M260.53 133.67L260.53 140.95M260.53 135.23L259.44 134.19L258.35 133.67L256.72 133.67L255.63 134.19L254.54 135.23L253.99 136.79L253.99 137.83L254.54 139.39L255.63 140.43L256.72 140.95L258.35 140.95L259.44 140.43L260.53 139.39M270.89 135.23L269.8 134.19L268.71 133.67L267.07 133.67L265.98 134.19L264.89 135.23L264.35 136.79L264.35 137.83L264.89 139.39L265.98 140.43L267.07 140.95L268.71 140.95L269.8 140.43L270.89 139.39M275.25 130.03L275.25 138.87L275.79 140.43L276.88 140.95L277.97 140.95M273.61 133.67L277.43 133.67M280.7 130.03L281.25 130.55L281.79 130.03L281.25 129.51L280.7 130.03M281.25 133.67L281.25 140.95M291.6 135.23L290.51 134.19L289.42 133.67L287.79 133.67L286.69 134.19L285.61 135.23L285.06 136.79L285.06 137.83L285.61 139.39L286.69 140.43L287.79 140.95L289.42 140.95L290.51 140.43L291.6 139.39M307.95 127.95L306.86 128.99L305.77 130.55L304.68 132.63L304.14 135.23L304.14 137.31L304.68 139.91L305.77 141.99L306.86 143.55L307.95 144.59M311.77 130.03L311.77 140.95M311.77 130.03L316.67 130.03L318.31 130.55L318.85 131.07L319.4 132.11L319.4 133.15L318.85 134.19L318.31 134.71L316.67 135.23L311.77 135.23M315.58 135.23L319.4 140.95M321.37 138.08L324.07 144.85M326.77 138.08L324.07 144.85M329.29 134.71L339.1 134.71M329.29 137.83L339.1 137.83M349.46 130.03L344.01 130.03L343.46 134.71L344.01 134.19L345.64 133.67L347.28 133.67L348.91 134.19L350 135.23L350.55 136.79L350.55 137.83L350 139.39L348.91 140.43L347.28 140.95L345.64 140.95L344.01 140.43L343.46 139.91L342.92 138.87M354.91 139.91L354.36 140.43L354.91 140.95L355.45 140.43L354.91 139.91M365.81 130.03L360.36 130.03L359.81 134.71L360.36 134.19L361.99 133.67L363.63 133.67L365.26 134.19L366.35 135.23L366.9 136.79L366.9 137.83L366.35 139.39L365.26 140.43L363.63 140.95L361.99 140.95L360.36 140.43L359.81 139.91L359.27 138.87M370.17 127.95L371.26 128.99L372.35 130.55L373.44 132.63L373.98 135.23L373.98 137.31L373.44 139.91L372.35 141.99L371.26 143.55L370.17 144.59M235.46 151.99L234.38 150.95L232.74 150.43L230.56 150.43L228.92 150.95L227.83 151.99L227.83 153.03L228.38 154.07L228.92 154.59L230.01 155.11L233.28 156.15L234.38 156.67L234.92 157.19L235.46 158.23L235.46 159.79L234.38 160.83L232.74 161.35L230.56 161.35L228.92 160.83L227.83 159.79M239.28 150.43L239.28 161.35M239.28 150.43L243.64 161.35M248 150.43L243.64 161.35M248 150.43L248 161.35M259.99 153.03L259.44 151.99L258.36 150.95L257.26 150.43L255.09 150.43L254 150.95L252.91 151.99L252.36 153.03L251.81 154.59L251.81 157.19L252.36 158.75L252.91 159.79L254 160.83L255.09 161.35L257.26 161.35L258.36 160.83L259.44 159.79L259.99 158.75M228.38 170.83L228.38 181.75M228.38 181.75L234.92 181.75M237.64 170.83L237.64 181.75M237.64 170.83L242 181.75M246.36 170.83L242 181.75M246.36 170.83L246.36 181.75M258.35 173.43L257.81 172.39L256.72 171.35L255.63 170.83L253.45 170.83L252.36 171.35L251.27 172.39L250.72 173.43L250.18 174.99L250.18 177.59L250.72 179.15L251.27 180.19L252.36 181.23L253.45 181.75L255.63 181.75L256.72 181.23L257.81 180.19L258.35 179.15M228.38 191.23L228.38 202.15M228.38 191.23L233.28 191.23L234.92 191.75L235.46 192.27L236.01 193.31L236.01 194.87L235.46 195.91L234.92 196.43L233.28 196.95L228.38 196.95M242 194.87L240.91 195.39L239.82 196.43L239.28 197.99L239.28 199.03L239.82 200.59L240.91 201.63L242 202.15L243.64 202.15L244.73 201.63L245.82 200.59L246.36 199.03L246.36 197.99L245.82 196.43L244.73 195.39L243.64 194.87L242 194.87M249.63 194.87L251.81 202.15M253.99 194.87L251.81 202.15M253.99 194.87L256.17 202.15M258.35 194.87L256.17 202.15M261.62 197.99L268.16 197.99L268.16 196.95L267.62 195.91L267.07 195.39L265.98 194.87L264.35 194.87L263.26 195.39L262.17 196.43L261.62 197.99L261.62 199.03L262.17 200.59L263.26 201.63L264.35 202.15L265.98 202.15L267.07 201.63L268.16 200.59M271.98 194.87L271.98 202.15M271.98 197.99L272.52 196.43L273.61 195.39L274.7 194.87L276.34 194.87M287.78 191.23L287.78 202.15M298.14 194.87L298.14 202.15M298.14 196.43L297.05 195.39L295.96 194.87L294.32 194.87L293.23 195.39L292.14 196.43L291.6 197.99L291.6 199.03L292.14 200.59L293.23 201.63L294.32 202.15L295.96 202.15L297.05 201.63L298.14 200.59M301.95 194.87L304.13 202.15M306.31 194.87L304.13 202.15M306.31 194.87L308.5 202.15M310.68 194.87L308.5 202.15M326.48 191.23L325.39 191.23L324.3 191.75L323.76 193.31L323.76 202.15M322.12 194.87L325.94 194.87M329.21 191.23L329.75 191.75L330.3 191.23L329.75 190.71L329.21 191.23M329.75 194.87L329.75 202.15M334.66 191.23L334.66 200.07L335.2 201.63L336.29 202.15L337.38 202.15M333.02 194.87L336.84 194.87M328.83 468.82L330.47 468.82L329.93 471.94L329.38 474.54L328.83 476.1M335.92 468.82L335.38 470.38L334.83 471.42L333.74 472.98L332.1 474.54L330.47 475.58L328.83 476.1M340.05 473.23L339.04 473.55L338.36 474.52L338.02 476.13L338.02 477.1L338.36 478.71L339.04 479.68L340.05 480L340.73 480L341.74 479.68L342.42 478.71L342.75 477.1L342.75 476.13L342.42 474.52L341.74 473.55L340.73 473.23L340.05 473.23M358.48 463.1L357.39 464.14L356.3 465.7L355.21 467.78L354.67 470.38L354.67 472.46L355.21 475.06L356.3 477.14L357.39 478.7L358.48 479.74M363.39 467.26L364.48 466.74L366.11 465.18L366.11 476.1M375.92 465.18L374.29 465.7L373.2 467.26L372.65 469.86L372.65 471.42L373.2 474.02L374.29 475.58L375.92 476.1L377.01 476.1L378.65 475.58L379.74 474.02L380.28 471.42L380.28 469.86L379.74 467.26L378.65 465.7L377.01 465.18L375.92 465.18M383.95 462.12L384.62 461.8L385.63 460.83L385.63 467.6M393.74 460.83L390.37 460.83L390.03 463.73L390.37 463.41L391.38 463.09L392.39 463.09L393.41 463.41L394.08 464.05L394.42 465.02L394.42 465.67L394.08 466.63L393.41 467.28L392.39 467.6L391.38 467.6L390.37 467.28L390.03 466.96L389.69 466.31M406.33 465.18L406.33 476.1M413.96 465.18L413.96 476.1M406.33 470.38L413.96 470.38M423.77 468.82L417.78 476.1M417.78 468.82L423.77 468.82M417.78 476.1L423.77 476.1M427.04 463.1L428.13 464.14L429.22 465.7L430.31 467.78L430.86 470.38L430.86 472.46L430.31 475.06L429.22 477.14L428.13 478.7L427.04 479.74" fill="none" stroke="#000" stroke-width="1.35" stroke-linecap="round" stroke-linejoin="round"/>
<path transform="translate(55.15 252.6) rotate(-90)" d="M5.17 -11.03L0.57 0M5.17 -11.03L9.77 0M2.3 -3.68L8.05 -3.68M10.71 -2.34L11.42 -2.34L12.13 -2.01L12.49 -1.68L15.34 4.5M13.2 -0.06L11.06 4.5" fill="none" stroke="#000" stroke-width="1.35" stroke-linecap="round" stroke-linejoin="round"/>
<text x="98" y="410" text-anchor="end">0.2</text>
<text x="98" y="357.06" text-anchor="end">0.4</text>
<text x="98" y="304.11" text-anchor="end">0.6</text>
<text x="98" y="251.17" text-anchor="end">0.8</text>
<text x="98" y="198.22" text-anchor="end">1.0</text>
<text x="98" y="145.28" text-anchor="end">1.2</text>
<text x="98" y="92.34" text-anchor="end">1.4</text>
<text x="220.48" y="454.2" text-anchor="middle">1.0</text>
<text x="366.08" y="454.2" text-anchor="middle">1.5</text>
<text x="511.68" y="454.2" text-anchor="middle">2.0</text>
<text x="657.28" y="454.2" text-anchor="middle">2.5</text>
<text x="126.4" y="50.7" text-anchor="middle">R</text>
<text x="184.1" y="50.7" text-anchor="middle">V</text>
<text x="247.8" y="50.7" text-anchor="middle">B</text>
<text x="318.6" y="50.7" text-anchor="middle">U</text>
<text x="468.4" y="50.7" text-anchor="middle">260 nm</text>
<text x="566.5" y="50.7" text-anchor="middle">220 nm</text>
<text x="637.4" y="50.7" text-anchor="middle">198 nm</text>
<text x="311.3" y="34.7" text-anchor="start">Observed bands</text>
<text x="226.2" y="100.15" text-anchor="start">Galactic (R<tspan dy="4" font-size="10">V</tspan><tspan dy="-4">=3.1)</tspan></text>
<text x="226.2" y="120.55" text-anchor="start">Galactic (R<tspan dy="4" font-size="10">V</tspan><tspan dy="-4">=4.0)</tspan></text>
<text x="226.2" y="140.95" text-anchor="start">Galactic (R<tspan dy="4" font-size="10">V</tspan><tspan dy="-4">=5.5)</tspan></text>
<text x="226.2" y="161.35" text-anchor="start">SMC</text>
<text x="226.2" y="181.75" text-anchor="start">LMC</text>
<text x="226.2" y="202.15" text-anchor="start">Power law fit</text>
<text x="380.6" y="476.1" text-anchor="middle">ν<tspan dy="4" font-size="10">0</tspan><tspan dy="-4"> (10</tspan><tspan dy="-8" font-size="10">15</tspan><tspan dy="8"> Hz)</tspan></text>
<text transform="translate(55.15 244.5) rotate(-90)" text-anchor="middle">A<tspan dy="4" font-size="10">λ</tspan></text>
</svg>
</body></html>
